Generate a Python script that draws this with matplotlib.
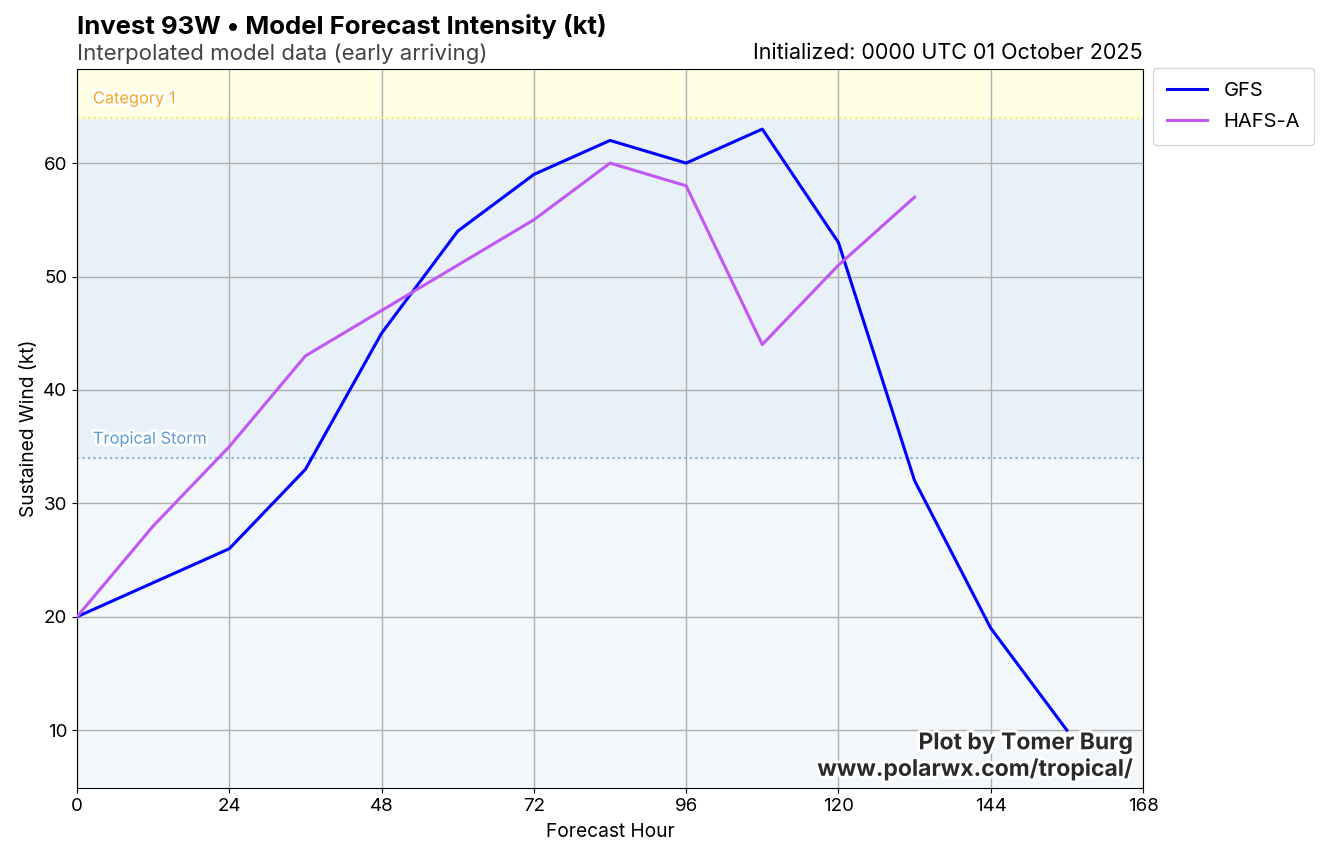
import matplotlib
matplotlib.use("Agg")
import matplotlib.pyplot as plt
import matplotlib.patheffects as pe

plt.rcParams['font.family'] = ['Inter', 'DejaVu Sans']

# forecast data (kt)
gfs_hours = [0, 12, 24, 36, 48, 60, 72, 84, 96, 108, 120, 132, 144, 156]
gfs_wind = [20, 23, 26, 33, 45, 54, 59, 62, 60, 63, 53, 32, 19, 10]
hafs_hours = [0, 12, 24, 36, 48, 60, 72, 84, 96, 108, 120, 132]
hafs_wind = [20, 28, 35, 43, 47, 51, 55, 60, 58, 44, 51, 57]

thresholds = [34, 64]
threshold_names = ['Tropical Storm', 'Category 1']
xticks = [0, 24, 48, 72, 96, 120, 144, 168]

fig = plt.figure(figsize=(13.3, 8.6), dpi=100)
ax = fig.add_axes([0.0579, 0.0837, 0.8015, 0.8361])

ymin, ymax = 4.9, 68.3
ax.set_xlim(0, 168)
ax.set_ylim(ymin, ymax)

# intensity bands
ax.axhspan(ymin, 34, color='#f2f7fb', zorder=0)
ax.axhspan(34, 64, color='#e8f1f8', zorder=0)
ax.axhspan(64, ymax, color='#ffffe3', zorder=0)
ax.axhline(34, color='#7fb3e0', ls=':', lw=1.5, zorder=1)
ax.axhline(64, color='#eeee70', ls=':', lw=1.5, zorder=1)

outline = [pe.withStroke(linewidth=4, foreground='white')]
ax.text(2.5, 34 + 1.0, threshold_names[0], color='#5a9bd5', fontsize=11.8,
        va='bottom', path_effects=outline, zorder=3)
ax.text(2.5, 64 + 1.0, threshold_names[1], color='#f5a623', fontsize=11.8,
        va='bottom', path_effects=outline, zorder=3)

ax.grid(True, color='#b0b0b0', lw=1, zorder=1)
ax.set_axisbelow(True)

ax.plot(gfs_hours, gfs_wind, color='#0000ff', lw=2.2, label='GFS', zorder=4)
ax.plot(hafs_hours, hafs_wind, color='#c157f5', lw=2.2, label='HAFS-A', zorder=4)

ax.set_xticks(xticks)
ax.tick_params(labelsize=13.5)
ax.set_xlabel('Forecast Hour', fontsize=13.8, labelpad=6)
ax.set_ylabel('Sustained Wind (kt)', fontsize=13.8)

ax.legend(loc='upper left', bbox_to_anchor=(1.0094, 1.0015), borderaxespad=0,
          fontsize=14.5, handlelength=2.0, borderpad=0.7, labelspacing=0.65)

ax.text(0.0, 1.041, 'Invest 93W • Model Forecast Intensity (kt)', transform=ax.transAxes,
        fontsize=18.5, fontweight='bold', ha='left', va='bottom')
ax.text(0.0, 1.007, 'Interpolated model data (early arriving)', transform=ax.transAxes,
        fontsize=16, color='#444444', ha='left', va='bottom')
ax.text(1.0, 1.009, 'Initialized: 0000 UTC 01 October 2025', transform=ax.transAxes,
        fontsize=15.5, ha='right', va='bottom')

ax.text(0.99, 0.01, 'Plot by Tomer Burg\nwww.polarwx.com/tropical/', transform=ax.transAxes,
        fontsize=16.5, fontweight='bold', color='#2a2a2a', ha='right', va='bottom',
        linespacing=1.2, path_effects=[pe.withStroke(linewidth=4, foreground='white')], zorder=5)

fig.savefig('out.png', dpi=100)
